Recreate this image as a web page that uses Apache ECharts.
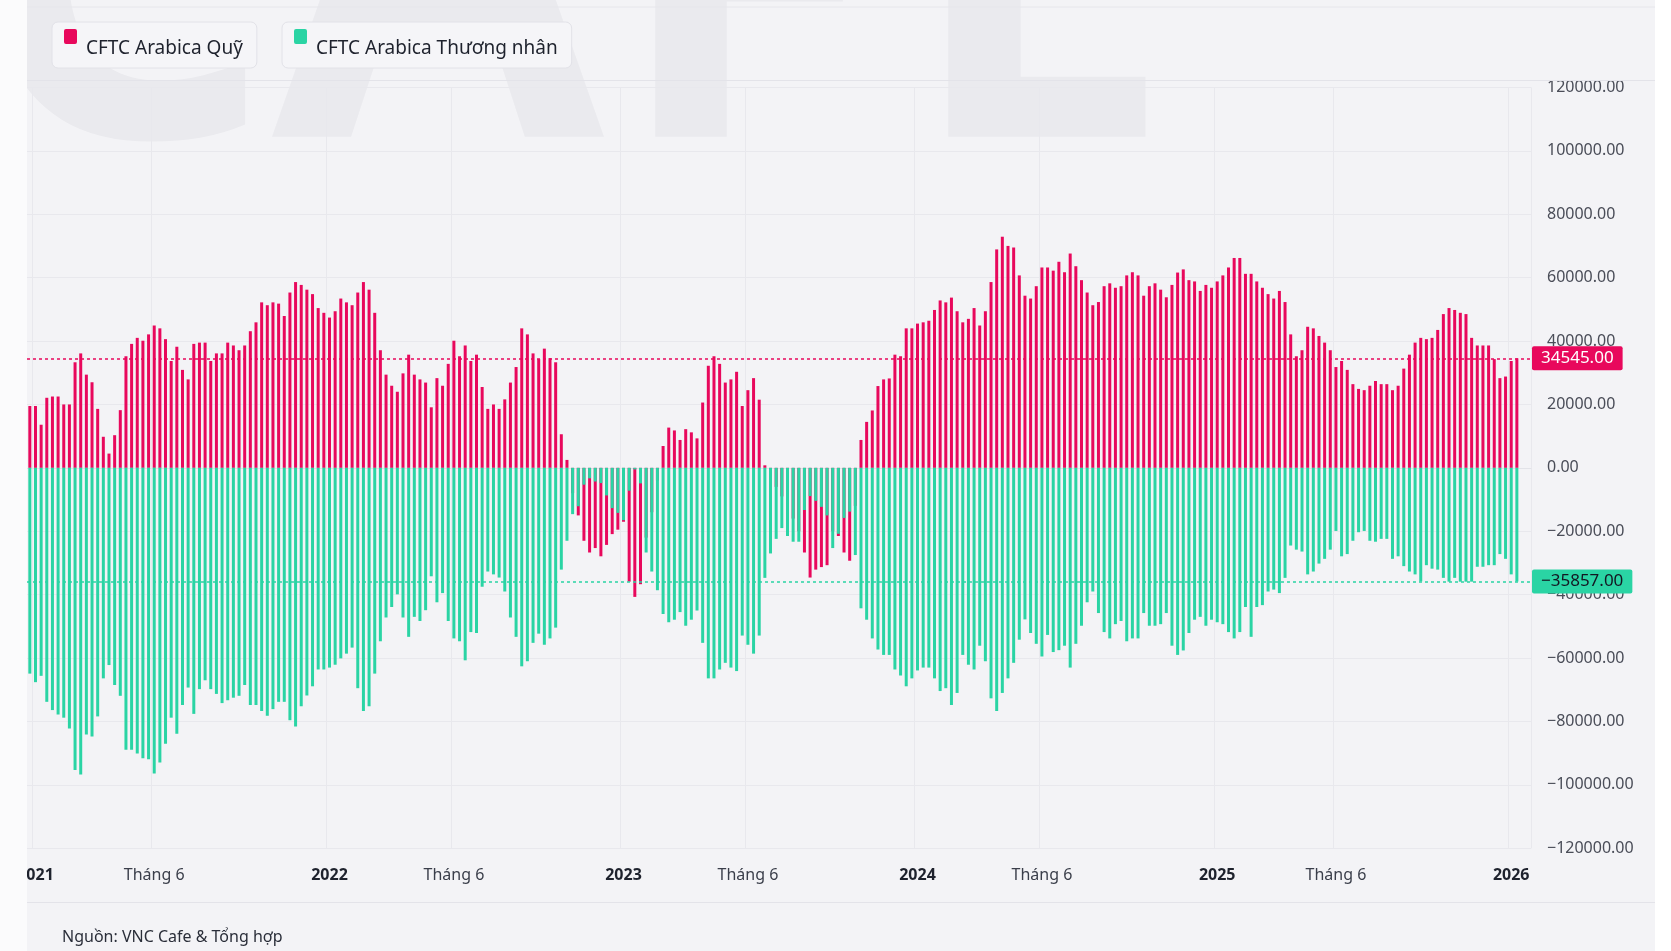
<!DOCTYPE html>
<html>
<head>
<meta charset="utf-8">
<title>CFTC Arabica</title>
<script src="https://cdn.jsdelivr.net/npm/echarts@6/dist/echarts.min.js"></script>
<style>
  html, body { margin: 0; padding: 0; background: #f3f3f6; }
  #chart { width: 1671px; height: 951px; }
</style>
</head>
<body>
<div id="chart"></div>
<script>
// weekly CFTC net positions, first report 2020-12-29
const firstWeek = '2020-12-29';

const fundsName = 'CFTC Arabica Quỹ';
const tradersName = 'CFTC Arabica Thương nhân';

const funds = [
  19500, 19500, 13600, 22100, 22500, 22500, 20000, 20000, 33300, 36100,
  29400, 27000, 18600, 9800, 4500, 10300, 18200, 35200, 39100, 41000,
  40100, 42100, 44900, 44000, 40600, 33700, 38200, 30900, 27900, 39100,
  39500, 39500, 33700, 36100, 36100, 39500, 38600, 37100, 38600, 43100,
  45900, 52200, 51300, 52200, 51800, 47900, 55300, 58600, 57700, 56200,
  54800, 50400, 48900, 47400, 49400, 53400, 52200, 51300, 55300, 58600,
  56200, 48900, 37100, 29400, 25900, 24000, 29800, 35700, 29400, 27900,
  26900, 19100, 28300, 25900, 32800, 40100, 35200, 38600, 33700, 35700,
  25500, 18600, 20000, 18600, 21600, 26900, 31800, 44000, 42100, 36100,
  34300, 37600, 34600, 33300, 10600, 2500, -8000, -15000, -23000, -26700,
  -25300, -27900, -24300, -20900, -19500, -17000, -35900, -40700, -36700, -22000,
  -14000, -4000, 6900, 12700, 11800, 8800, 12200, 11200, 9300, 20600,
  32200, 35200, 32800, 26900, 27900, 30300, 19500, 24500, 28300, 21500,
  800, -3000, -6000, -9000, -12000, -16000, -20000, -26700, -34600, -32100,
  -31300, -30700, -20000, -21500, -26700, -29300, -12000, 8800, 14500, 18100,
  25800, 27900, 28200, 35700, 35200, 44000, 44000, 45500, 45900, 46400,
  49800, 52800, 52200, 53700, 49400, 45900, 47000, 50400, 44900, 49400,
  58600, 68900, 72900, 70000, 69500, 60700, 54300, 53400, 57300, 63200,
  63200, 62200, 65000, 61700, 67600, 63600, 59200, 55300, 51300, 52300,
  57300, 58200, 56800, 57300, 60700, 61700, 60700, 54300, 57300, 58200,
  56200, 53800, 57700, 61600, 62600, 59200, 58800, 55800, 57700, 56800,
  58800, 60700, 63200, 66200, 66200, 61200, 61200, 58800, 56800, 54800,
  53400, 55800, 52300, 42100, 35200, 37100, 44500, 44000, 41600, 39500,
  37100, 31800, 33700, 30900, 26400, 24900, 24500, 25900, 27400, 26400,
  26400, 24500, 25900, 31300, 35700, 39500, 41000, 40600, 41000, 43500,
  48500, 50400, 49800, 48900, 48500, 41000, 38600, 38600, 38600, 34300,
  28300, 28800, 33700, 34545
];

const traders = [
  -64900, -67600, -65600, -73800, -76400, -77800, -78800, -82200, -95300, -96700,
  -84100, -84700, -78400, -66400, -62200, -68500, -71900, -88900, -88900, -90100,
  -91600, -91900, -96400, -92900, -87000, -78800, -83900, -74800, -69300, -77600,
  -69800, -67000, -69800, -71300, -74200, -73300, -72500, -71900, -68500, -74800,
  -74800, -76700, -78200, -76100, -73800, -73800, -79600, -81600, -75200, -71800,
  -68900, -63600, -63600, -63000, -62100, -60100, -58600, -56700, -69500, -76700,
  -75200, -64900, -54700, -47200, -43900, -39900, -47200, -53300, -47000, -48300,
  -44900, -34200, -42400, -39500, -48300, -53800, -54700, -60700, -51800, -52100,
  -37500, -32700, -33600, -34600, -39000, -47200, -53300, -62600, -61000, -55200,
  -52300, -55800, -53800, -50400, -32100, -23000, -14600, -12100, -5300, -3300,
  -4300, -4800, -8700, -12700, -14200, -16500, -7200, -500, -4900, -26700,
  -32700, -38600, -46100, -48700, -47900, -45500, -49800, -47900, -45000, -55200,
  -66400, -66400, -63600, -61500, -63000, -64100, -52900, -55800, -58600, -52900,
  -34700, -27000, -22400, -19000, -21500, -23300, -23300, -13300, -8900, -10400,
  -12300, -15000, -25300, -20800, -15800, -13800, -27500, -44300, -47900, -53800,
  -57300, -59000, -59000, -63600, -65500, -68900, -66400, -63900, -63000, -63000,
  -66400, -70400, -69500, -74800, -71000, -59000, -62100, -63600, -56100, -61000,
  -72700, -76700, -71000, -66400, -61500, -54200, -47800, -52100, -55500, -59500,
  -52700, -58100, -57500, -56100, -63000, -55500, -49800, -42400, -39000, -45800,
  -51800, -53800, -49300, -48300, -54700, -53800, -53800, -45800, -49800, -49800,
  -49300, -45800, -56100, -59000, -57600, -52100, -47900, -47000, -49800, -47900,
  -48700, -49300, -51800, -53800, -51800, -43900, -53300, -43900, -43300, -39000,
  -38400, -39500, -34700, -24500, -25800, -26400, -33600, -32700, -30200, -28700,
  -25800, -19900, -27900, -27200, -23000, -20300, -19900, -23000, -23300, -22400,
  -22400, -28700, -27900, -31000, -32700, -33600, -35800, -30700, -31800, -32100,
  -34700, -35900, -34700, -35900, -35900, -35900, -31200, -31200, -30700, -30700,
  -27200, -28700, -33600, -35857
];

const yTicks = [-120000, 120000, 20000]; // min, max, step

const pink = '#e8085c';
const teal = '#2ad4a4';
const font = '"Noto Sans", sans-serif';

// weekly categories (two empty weeks on the right like the source chart)
const categories = [];
const t0 = Date.parse(firstWeek + 'T00:00:00Z');
for (let i = 0; i < funds.length + 2; i++) {
  categories.push(new Date(t0 + i * 7 * 86400000).toISOString().slice(0, 10));
}

function markWeek(d) {
  const m = +d.slice(5, 7), day = +d.slice(8, 10);
  return (m === 1 || m === 6) && day <= 7;
}
function fmtNum(v) {
  return (v < 0 ? '\u2212' : '') + Math.abs(v).toFixed(2);
}

const lastFunds = funds[funds.length - 1];
const lastTraders = traders[traders.length - 1];

// legend marker: rounded square sitting above the text line
const legendIcon = 'path://M2,0L11,0Q13,0,13,2L13,13Q13,15,11,15L2,15Q0,15,0,13L0,2Q0,0,2,0ZM17,39L16.99,39Z';
const legendBase = {
  top: 22,
  orient: 'horizontal',
  backgroundColor: '#f5f5f8',
  borderColor: '#e2e2e8',
  borderWidth: 1,
  borderRadius: 6,
  padding: [7, 14, 0, 12],
  itemWidth: 17,
  itemHeight: 39,
  icon: legendIcon,
  selectedMode: false,
  textStyle: { fontSize: 19, color: '#1e222d', fontFamily: font }
};

const wm = { font: 'bold 480px ' + font, fill: 'rgba(30,30,60,0.038)', textVerticalAlign: 'middle' };

const myChart = echarts.init(document.getElementById('chart'));
myChart.setOption({
  animation: false,
  backgroundColor: '#f3f3f6',
  textStyle: { fontFamily: font },
  legend: [
    Object.assign({}, legendBase, { left: 52, data: [fundsName] }),
    Object.assign({}, legendBase, { left: 282, data: [tradersName] })
  ],
  grid: {
    left: 27, right: 140, top: 87.4, bottom: 102.7,
    containLabel: false, outerBoundsMode: 'none'
  },
  xAxis: {
    type: 'category',
    data: categories,
    boundaryGap: true,
    axisLine: { show: true, lineStyle: { color: '#e2e3e8' } },
    axisTick: { show: false },
    splitLine: {
      show: true,
      interval: (i, v) => markWeek(v),
      lineStyle: { color: '#e8e8ed' }
    },
    axisLabel: {
      interval: (i, v) => markWeek(v),
      formatter: v => (+v.slice(5, 7) === 1 ? '{y|' + v.slice(0, 4) + '}' : 'Tháng 6'),
      color: '#3a3e4a',
      fontSize: 16,
      margin: 19,
      rich: { y: { fontSize: 16, fontWeight: 'bold', color: '#1e222d' } }
    }
  },
  yAxis: {
    type: 'value',
    position: 'right',
    min: yTicks[0],
    max: yTicks[1],
    interval: yTicks[2],
    axisLine: { show: false },
    axisTick: { show: false },
    splitLine: { lineStyle: { color: '#e8e8ed' } },
    axisLabel: { formatter: fmtNum, color: '#4a4d58', fontSize: 16, margin: 16 }
  },
  series: [
    {
      name: fundsName,
      type: 'bar',
      data: funds,
      barWidth: 3,
      barGap: '-100%',
      itemStyle: { color: pink },
      markLine: {
        silent: true,
        symbol: 'none',
        lineStyle: { color: pink, type: [3, 3], width: 1.5 },
        label: {
          position: 'end', distance: 1,
          formatter: fmtNum(lastFunds),
          color: '#ffffff', backgroundColor: pink,
          padding: [4, 9, 3, 9], borderRadius: 2, fontSize: 17
        },
        data: [{ yAxis: lastFunds }]
      }
    },
    {
      name: tradersName,
      type: 'bar',
      data: traders,
      barWidth: 3,
      barGap: '-100%',
      itemStyle: { color: teal },
      markLine: {
        silent: true,
        symbol: 'none',
        lineStyle: { color: teal, type: [3, 3], width: 1.5 },
        label: {
          position: 'end', distance: 1,
          formatter: fmtNum(lastTraders),
          color: '#131722', backgroundColor: teal,
          padding: [4, 9, 3, 9], borderRadius: 2, fontSize: 17
        },
        data: [{ yAxis: lastTraders }]
      }
    }
  ],
  graphic: [
    // faint watermark letters at the top
    { type: 'text', x: -34, y: 0, z: -10, silent: true, style: Object.assign({ text: 'C' }, wm) },
    { type: 'text', x: 272, y: 0, z: -10, silent: true, style: Object.assign({ text: 'A' }, wm) },
    { type: 'text', x: 612, y: 0, z: -10, silent: true, style: Object.assign({ text: 'F' }, wm) },
    { type: 'text', x: 905, y: 0, z: -10, silent: true, style: Object.assign({ text: 'E' }, wm) },
    // frame lines
    { type: 'line', z: 1, silent: true, shape: { x1: 27, y1: 7, x2: 1655, y2: 7 }, style: { stroke: '#e6e6eb', lineWidth: 1 } },
    { type: 'line', z: 1, silent: true, shape: { x1: 27, y1: 80.5, x2: 1655, y2: 80.5 }, style: { stroke: '#e3e3e9', lineWidth: 1 } },
    { type: 'line', z: 1, silent: true, shape: { x1: 27, y1: 902.5, x2: 1655, y2: 902.5 }, style: { stroke: '#e3e3e9', lineWidth: 1 } },
    // white margins
    { type: 'rect', z: 100, silent: true, shape: { x: 0, y: 0, width: 27, height: 951 }, style: { fill: '#fbfbfc' } },
    { type: 'rect', z: 100, silent: true, shape: { x: 1655, y: 0, width: 16, height: 951 }, style: { fill: '#ffffff' } },
    // source note
    { type: 'text', x: 62, y: 937, silent: true,
      style: { text: 'Nguồn: VNC Cafe & Tổng hợp', font: '16px ' + font, fill: '#2a2e39', textVerticalAlign: 'middle' } }
  ]
});
</script>
</body>
</html>
